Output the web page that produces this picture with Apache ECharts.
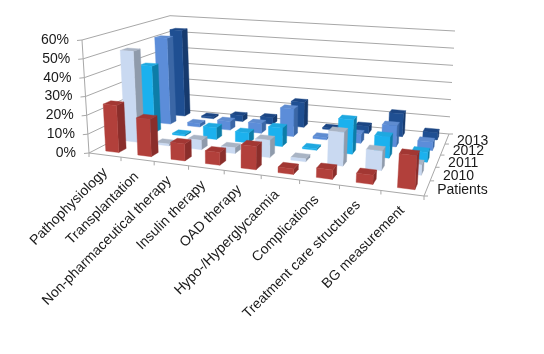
<!DOCTYPE html>
<html><head><meta charset="utf-8">
<style>html,body{margin:0;padding:0;background:#fff}#c{width:544px;height:354px}</style>
<script src="https://cdn.jsdelivr.net/npm/echarts@6/dist/echarts.min.js"></script>
</head><body><div id="c"></div>
<script>
const categories = ['Pathophysiology','Transplantation','Non-pharmaceutical therapy','Insulin therapy','OAD therapy','Hypo-/Hyperglycaemia','Complications','Treatment care structures','BG measurement'];
const rows = ['Patients','2010','2011','2012','2013'];
const valueTicks = [0,10,20,30,40,50,60];
const patients = [25,19.5,8.7,6.5,11.7,2.7,4.6,4.4,16];
const y2010 = [50,1,5,3,9,1.5,17,9.7,5];
const y2011 = [38,0.8,6.5,5.5,10,0.8,18,11,5];
const y2012 = [51,2,5,5.5,15.5,1.2,5,11.4,4.5];
const y2013 = [53,1,3.5,4,14.7,1,4,13,4];

const W=544,H=354;
function homography(p){
  const [x0,y0]=p[0],[x1,y1]=p[1],[x2,y2]=p[2],[x3,y3]=p[3];
  const dx1=x1-x2,dx2=x3-x2,sx=x0-x1+x2-x3,dy1=y1-y2,dy2=y3-y2,sy=y0-y1+y2-y3;
  const den=dx1*dy2-dx2*dy1,g=(sx*dy2-dx2*sy)/den,h=(dx1*sy-sx*dy1)/den;
  const a=x1-x0+g*x1,b=x3-x0+h*x3,d=y1-y0+g*y1,e=y3-y0+h*y3;
  return (u,v)=>{const w=g*u+h*v+1;return [(a*u+b*v+x0)/w,(d*u+e*v+y0)/w];};
}
const floorQ=homography([[89,153],[424,196],[449,134],[174,109]]);
const riseFL=[-7,-113],riseFR=[8,-129],riseBR=[6,-103],riseBL=[-4,-93.3];
function warp(u){return u+0.05*u*(1-u);}
function proj(u,v,z){
  const w=warp(u),a=floorQ(w,v);
  const mix=k=>(riseFL[k]*(1-w)+riseFR[k]*w)*(1-v)+(riseBL[k]*(1-w)+riseBR[k]*w)*v;
  return [a[0]+mix(0)*z,a[1]+mix(1)*z];
}
const gridLine='#A8A8A8';
const faces={
  Patients:['#B2403B','#A23733','#8A2E2B'],
  '2010':['#C9D9F1','#A9B4C4','#8F9BAB'],
  '2011':['#1BB1EE','#1FA8E0','#0D7DA8'],
  '2012':['#5C8DD9','#5F8CD0','#3B67A6'],
  '2013':['#1F4F92','#1C4684','#163A6E']
};
const uOf=(api,i)=>api.coord([i,0])[0]/W;
const zOf=(api,val)=>1-api.coord([0,val])[1]/H;
function poly(points,fill){return {type:'polygon',shape:{points},style:{fill,stroke:fill,lineWidth:0.4}};}
function line(a,b,w){return {type:'line',shape:{x1:a[0],y1:a[1],x2:b[0],y2:b[1]},style:{stroke:gridLine,lineWidth:w||1}};}

function barRenderer(rowIdx){
  const f=faces[rows[rowIdx]];
  return (params,api)=>{
    const i=api.value(0),val=api.value(1);
    const u=uOf(api,i)+0.004,z=zOf(api,val),hu=api.size([1,0])[0]/W*0.205;
    const v=(rowIdx+0.5)/rows.length,hv=0.038;
    const u0=u-hu,u1=u+hu,v0=v-hv,v1=v+hv;
    return {type:'group',children:[
      poly([proj(u1,v0,0),proj(u1,v1,0),proj(u1,v1,z),proj(u1,v0,z)],f[2]),
      poly([proj(u0,v0,z),proj(u1,v0,z),proj(u1,v1,z),proj(u0,v1,z)],f[1]),
      poly([proj(u0,v0,0),proj(u1,v0,0),proj(u1,v0,z),proj(u0,v0,z)],f[0])
    ]};
  };
}
function wallRenderer(params,api){
  const val=api.value(0),z=zOf(api,val);
  const a=proj(0,0,z),b=proj(0,1,z),c=proj(1,1,z);
  const kids=[line(a,b),line(b,c),line(a,[a[0]-5,a[1]+0.5])];
  kids.push({type:'text',x:a[0]-13,y:a[1],style:{text:api.value(1),align:'right',verticalAlign:'middle',font:'14px "Liberation Sans"',fill:'#1a1a1a'}});
  if(val===0){ kids.push(line(proj(0,0,0),proj(1,0,0)),line(proj(1,0,0),proj(1,1,0))); }
  else if(val===60){ kids.push(line(proj(0,0,0),a)); }
  return {type:'group',children:kids};
}
function catRenderer(params,api){
  const i=api.value(0),u=uOf(api,i),du=api.size([1,0])[0]/W;
  const p=floorQ(u,0),t=proj(u+du/2,0,0);
  const kids=[line(t,[t[0],t[1]+4])];
  if(i===0){const s=proj(0,0,0);kids.push(line(s,[s[0],s[1]+4]));}
  kids.push({type:'text',x:p[0]+1,y:p[1]+15.5,rotation:Math.PI/4,style:{text:categories[i],align:'right',verticalAlign:'middle',font:'14px "Liberation Sans"',fill:'#1a1a1a'}});
  return {type:'group',children:kids};
}
function rowRenderer(params,api){
  const r=api.value(0),v=(r+0.5)/rows.length;
  const p=proj(1,v,0),t=proj(1,(r+1)/rows.length,0);
  const kids=[line(t,[t[0]+4,t[1]])];
  if(r===0){const s=proj(1,0,0);kids.push(line(s,[s[0]+4,s[1]]));}
  kids.push({type:'text',x:p[0]+10,y:p[1]+2,style:{text:rows[r],align:'left',verticalAlign:'middle',font:'14px "Liberation Sans"',fill:'#1a1a1a'}});
  return {type:'group',children:kids};
}
const base={type:'custom',coordinateSystem:'cartesian2d',silent:true,clip:false,animation:false};
const rowData=[patients,y2010,y2011,y2012,y2013];
const series=[
  Object.assign({},base,{name:'walls',renderItem:wallRenderer,encode:{x:2,y:0},data:valueTicks.map(t=>[t,t+'%',0])}),
  Object.assign({},base,{name:'categories',renderItem:catRenderer,encode:{x:0,y:1},data:categories.map((c,i)=>[i,0])}),
  Object.assign({},base,{name:'rows',renderItem:rowRenderer,encode:{x:1,y:1},data:rows.map((r,i)=>[i,0,0])})
];
for(let r=rows.length-1;r>=0;r--){
  series.push(Object.assign({},base,{name:rows[r],renderItem:barRenderer(r),encode:{x:0,y:1},data:rowData[r].map((v,i)=>[i,v])}));
}
const chart=echarts.init(document.getElementById('c'),null,{renderer:'canvas',width:W,height:H});
chart.setOption({
  animation:false,backgroundColor:'#fff',
  grid:{left:0,top:0,width:W,height:H,containLabel:false},
  xAxis:{type:'category',data:categories,show:false},
  yAxis:{type:'value',min:0,max:60,show:false},
  series
});
</script></body></html>
